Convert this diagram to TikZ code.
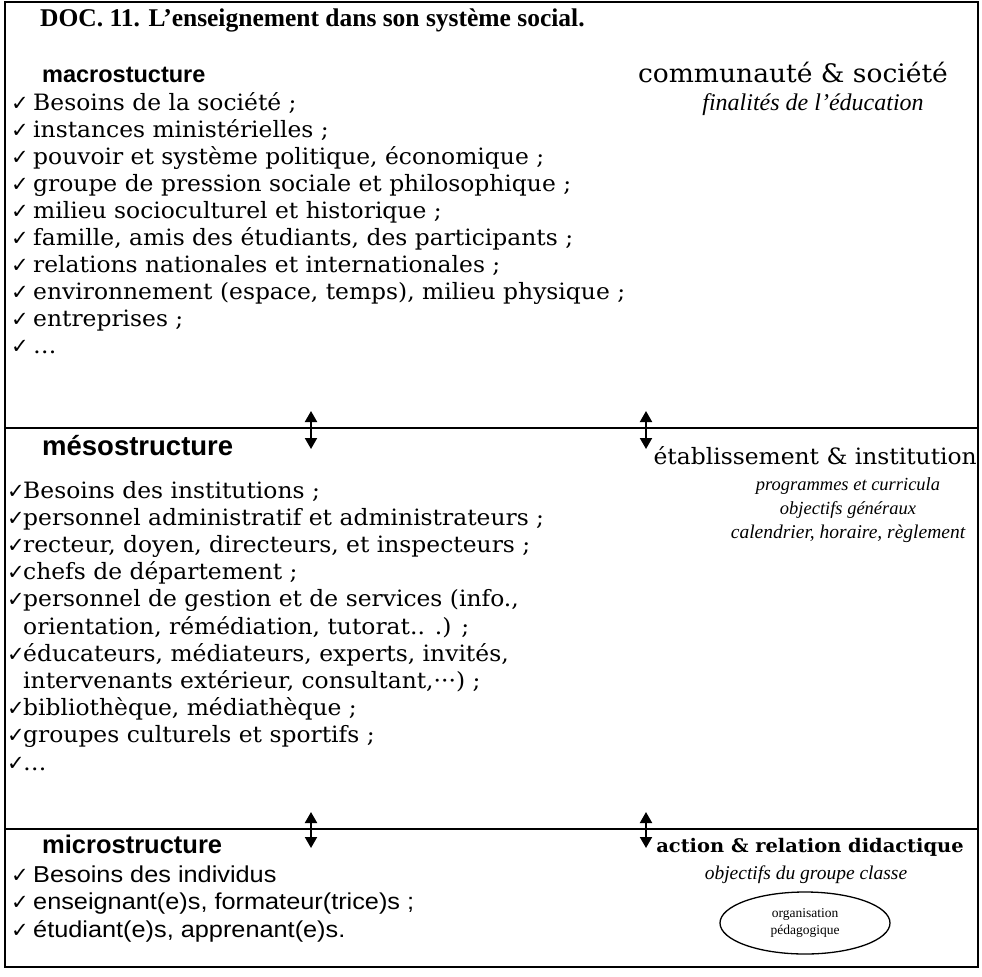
\documentclass[tikz,border=0pt]{standalone}
\usepackage{fontspec}
\setmainfont{DejaVu Serif}
\newfontfamily\bodyfont{DejaVu Serif}[FakeStretch=1.04]
\newfontfamily\headfont{Liberation Sans}
\newfontfamily\titlefont{Liberation Serif}
\newfontfamily\itfont{Liberation Serif}
\newfontfamily\sansbody{Liberation Sans}[FakeStretch=1.1]
\newfontfamily\symfont{DejaVu Sans}
\usetikzlibrary{arrows.meta,shapes.geometric}
\tikzset{
  body/.style={font=\bodyfont\fontsize{22.5bp}{26bp}\selectfont, anchor=base west, inner sep=0pt},
  sbody/.style={font=\sansbody\fontsize{23bp}{27bp}\selectfont, anchor=base west, inner sep=0pt},
  chk/.style={font=\symfont\fontsize{21bp}{23bp}\selectfont, anchor=base west, inner sep=0pt},
  head/.style={font=\headfont\bfseries\fontsize{23.5bp}{27bp}\selectfont, anchor=base west, inner sep=0pt},
  rhead/.style={font=\bodyfont\fontsize{22.5bp}{27bp}\selectfont, anchor=base, inner sep=0pt},
  itbig/.style={font=\itfont\itshape\fontsize{24bp}{28bp}\selectfont, anchor=base, inner sep=0pt},
  itsmall/.style={font=\itfont\itshape\fontsize{18.5bp}{22bp}\selectfont, anchor=base, inner sep=0pt},
  rule/.style={line width=1.4bp},
  dbl/.style={line width=1.9bp, {Triangle[width=12bp,length=11bp]}-{Triangle[width=12bp,length=11bp]}},
}
\begin{document}
\begin{tikzpicture}[x=1bp,y=-1bp]
\useasboundingbox (0,0) rectangle (982,977);
% frame
\coordinate (tl) at (5,2);
\coordinate (br) at (978,967);
\draw[rule] (tl) rectangle (br);
\coordinate (d1l) at (5,428); \coordinate (d1r) at (978,428);
\coordinate (d2l) at (5,829); \coordinate (d2r) at (978,829);
\draw[rule] (d1l) -- (d1r);
\draw[rule] (d2l) -- (d2r);
% title
\node[font=\titlefont\bfseries\fontsize{25.5bp}{29bp}\selectfont, anchor=base west, inner sep=0pt] (title) at (40,26) {DOC. 11. L’enseignement dans son système social.};
% macro
\node[head] (macro) at (42,82) {macrostucture};
\node[rhead, font=\bodyfont\fontsize{25.5bp}{29bp}\selectfont] (comm) at (793,82) {communauté \& société};
\node[itbig] (fin) at (813,110) {finalités de l’éducation};
\foreach \t [count=\i from 0] in {Besoins de la société ;,instances ministérielles ;,{pouvoir et système politique, économique ;},groupe de pression sociale et philosophique ;,milieu socioculturel et historique ;,{famille, amis des étudiants, des participants ;},relations nationales et internationales ;,{environnement (espace, temps), milieu physique ;},entreprises ;,…}{
  \node[chk] (mac-c\i) at (11,{110+27.1*\i}) {✓};
  \node[body] (mac-t\i) at (33,{110+27.1*\i}) {\t};
}
% arrows 1
\coordinate (a1t) at (311,411); \coordinate (a1b) at (311,449);
\coordinate (a2t) at (646,411); \coordinate (a2b) at (646,449);
\draw[dbl] (a1t) -- (a1b);
\draw[dbl] (a2t) -- (a2b);
% meso
\node[head, font=\headfont\bfseries\fontsize{27.5bp}{31bp}\selectfont] (meso) at (42,455) {mésostructure};
\node[rhead, anchor=base east] (etab) at (977,464) {établissement \& institution};
\node[itsmall] (prog) at (848,490) {programmes et curricula};
\node[itsmall] (obj) at (848,514) {objectifs généraux};
\node[itsmall, font=\itfont\itshape\fontsize{19.5bp}{22bp}\selectfont] (cal) at (848,538) {calendrier, horaire, règlement};
\foreach \t/\c [count=\i from 0] in {Besoins des institutions ;/1,personnel administratif et administrateurs ;/1,{recteur, doyen, directeurs, et inspecteurs ;}/1,chefs de département ;/1,{personnel de gestion et de services (info.,}/1,{orientation, rémédiation, tutorat.. .) ;}/0,{éducateurs, médiateurs, experts, invités,}/1,{intervenants extérieur, consultant,···) ;}/0,{bibliothèque, médiathèque ;}/1,groupes culturels et sportifs ;/1,…/1}{
  \ifnum\c=1 \node[chk] (mes-c\i) at (7,{498+27.2*\i}) {✓}; \fi
  \node[body] (mes-t\i) at (23,{498+27.2*\i}) {\t};
}
% arrows 2
\coordinate (b1t) at (311,812); \coordinate (b1b) at (311,848);
\coordinate (b2t) at (646,812); \coordinate (b2b) at (646,848);
\draw[dbl] (b1t) -- (b1b);
\draw[dbl] (b2t) -- (b2b);
% micro
\node[head, font=\headfont\bfseries\fontsize{25.5bp}{29bp}\selectfont] (micro) at (42,853) {microstructure};
\node[font=\bodyfont\bfseries\fontsize{18.7bp}{23bp}\selectfont, anchor=base, inner sep=0pt] (act) at (810,852) {action \& relation didactique};
\node[itsmall, font=\itfont\itshape\fontsize{19.5bp}{23bp}\selectfont] (objg) at (806,879) {objectifs du groupe classe};
\node[draw, line width=1.3bp, ellipse, minimum width=170bp, minimum height=62bp, inner sep=0pt,
      font=\titlefont\fontsize{13.5bp}{16.5bp}\selectfont, align=center] (orga) at (805,923) {organisation\\pédagogique};
\foreach \t [count=\i from 0] in {Besoins des individus,{enseignant(e)s, formateur(trice)s ;},{étudiant(e)s, apprenant(e)s.}}{
  \node[chk] (mic-c\i) at (11,{882+27.5*\i}) {✓};
  \node[sbody] (mic-t\i) at (33,{882+27.5*\i}) {\t};
}
\end{tikzpicture}
\end{document}
